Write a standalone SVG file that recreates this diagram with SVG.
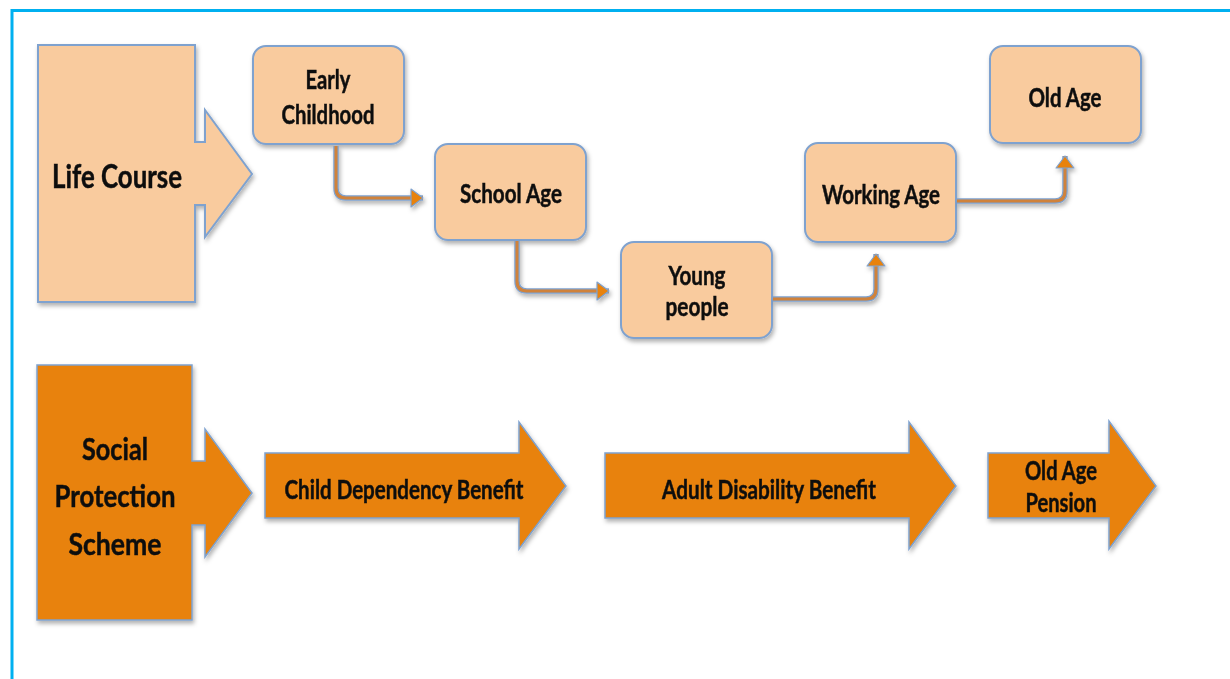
<svg xmlns="http://www.w3.org/2000/svg" width="1230" height="679" viewBox="0 0 1230 679">
<defs>
<filter id="sh" x="-10%" y="-10%" width="130%" height="130%">
<feDropShadow dx="1.5" dy="3" stdDeviation="2" flood-color="#000" flood-opacity="0.3"/>
</filter>
<marker id="ah" markerUnits="userSpaceOnUse" markerWidth="18" markerHeight="22" refX="13" refY="11" orient="auto" overflow="visible">
<path d="M1,2 L13,11 L1,20 Z" fill="#E8820C" stroke="#7FA2CF" stroke-width="1.2" stroke-linejoin="round"/>
</marker>
</defs>
<style>
.lite{fill:#F9CB9E;stroke:#7FA2CF;stroke-width:2}
.dark{fill:#E8820A;stroke:#7FA2CF;stroke-width:1.5}
.t{font-family:Lato,"Liberation Sans",sans-serif;font-weight:bold;fill:#111;stroke:#111;stroke-width:0.5;text-anchor:middle}
.cOut{fill:none;stroke:#7FA2CF;stroke-width:5.5;stroke-linecap:butt}
.cIn{fill:none;stroke:#D0823A;stroke-width:3;stroke-linecap:butt}
</style>
<rect width="1230" height="679" fill="#fff"/>
<path d="M12,679 V10.5 H1230" fill="none" stroke="#00B0F0" stroke-width="3"/>

<g id="life-course" filter="url(#sh)">
<path class="lite" d="M38,45 H195 V142 H205 V110 L252,174 L205,237 V205 H195 V302 H38 Z"/>
<text class="t" x="117" y="188" font-size="33" textLength="130" lengthAdjust="spacingAndGlyphs">Life Course</text>
</g>

<g id="early-childhood" filter="url(#sh)">
<rect class="lite" x="253" y="46" width="151" height="98" rx="13"/>
<text class="t" x="328" y="89" font-size="26" textLength="45" lengthAdjust="spacingAndGlyphs">Early</text>
<text class="t" x="328" y="124" font-size="26" textLength="93" lengthAdjust="spacingAndGlyphs">Childhood</text>
</g>

<g id="school-age" filter="url(#sh)">
<rect class="lite" x="435" y="144" width="151" height="96" rx="13"/>
<text class="t" x="511" y="203" font-size="26" textLength="102" lengthAdjust="spacingAndGlyphs">School Age</text>
</g>

<g id="young-people" filter="url(#sh)">
<rect class="lite" x="621" y="242" width="151" height="96" rx="13"/>
<text class="t" x="697" y="285" font-size="26" textLength="57" lengthAdjust="spacingAndGlyphs">Young</text>
<text class="t" x="697" y="316" font-size="26" textLength="63" lengthAdjust="spacingAndGlyphs">people</text>
</g>

<g id="working-age" filter="url(#sh)">
<rect class="lite" x="805" y="143" width="151" height="99" rx="13"/>
<text class="t" x="881" y="204" font-size="26" textLength="118" lengthAdjust="spacingAndGlyphs">Working Age</text>
</g>

<g id="old-age" filter="url(#sh)">
<rect class="lite" x="990" y="46" width="151" height="97" rx="13"/>
<text class="t" x="1065" y="107" font-size="26" textLength="73" lengthAdjust="spacingAndGlyphs">Old Age</text>
</g>

<g id="connectors" filter="url(#sh)">
<path class="cOut" d="M336,146 V188 Q336,198 346,198 H423"/>
<path class="cIn" d="M336,146 V188 Q336,198 346,198 H423" marker-end="url(#ah)"/>
<path class="cOut" d="M517,241 V281 Q517,291 527,291 H609"/>
<path class="cIn" d="M517,241 V281 Q517,291 527,291 H609" marker-end="url(#ah)"/>
<path class="cOut" d="M773,299 H866 Q876,299 876,289 V254"/>
<path class="cIn" d="M773,299 H866 Q876,299 876,289 V254" marker-end="url(#ah)"/>
<path class="cOut" d="M957,201 H1055 Q1065,201 1065,191 V156"/>
<path class="cIn" d="M957,201 H1055 Q1065,201 1065,191 V156" marker-end="url(#ah)"/>
</g>

<g id="social-protection-scheme" filter="url(#sh)">
<path class="dark" d="M37,365 H192 V461 H205 V429 L252,493 L205,557 V525 H192 V620 H37 Z"/>
<text class="t" x="115" y="460" font-size="31" textLength="66" lengthAdjust="spacingAndGlyphs">Social</text>
<text class="t" x="115" y="507" font-size="31" textLength="121" lengthAdjust="spacingAndGlyphs">Protection</text>
<text class="t" x="115" y="555" font-size="31" textLength="93" lengthAdjust="spacingAndGlyphs">Scheme</text>
</g>

<g id="child-dependency-benefit" filter="url(#sh)">
<path class="dark" d="M265,453 H519 V422 L566,486 L519,549 V518 H265 Z"/>
<text class="t" x="404" y="499" font-size="26" textLength="239" lengthAdjust="spacingAndGlyphs">Child Dependency Benefit</text>
</g>

<g id="adult-disability-benefit" filter="url(#sh)">
<path class="dark" d="M605,453 H909 V422 L956,486 L909,549 V518 H605 Z"/>
<text class="t" x="769" y="499" font-size="26" textLength="214" lengthAdjust="spacingAndGlyphs">Adult Disability Benefit</text>
</g>

<g id="old-age-pension" filter="url(#sh)">
<path class="dark" d="M988,453 H1109 V421 L1156,486 L1109,549 V518 H988 Z"/>
<text class="t" x="1061" y="480" font-size="26" textLength="72" lengthAdjust="spacingAndGlyphs">Old Age</text>
<text class="t" x="1061" y="512" font-size="26" textLength="71" lengthAdjust="spacingAndGlyphs">Pension</text>
</g>
</svg>
